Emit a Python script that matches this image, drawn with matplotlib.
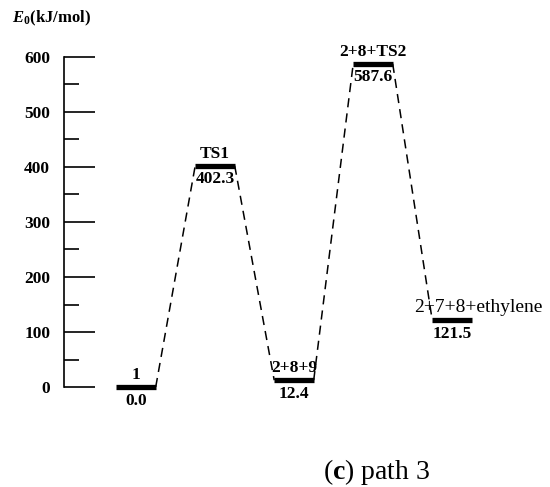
import matplotlib.pyplot as plt
from matplotlib.ticker import MultipleLocator

# energy levels (kJ/mol)
names = ['1', 'TS1', '2+8+9', '2+8+TS2', '2+7+8+ethylene']
energies = [0.0, 402.3, 12.4, 587.6, 121.5]
value_labels = ['0.0', '402.3', '12.4', '587.6', '121.5']

plt.rcParams['font.family'] = ['Liberation Serif', 'DejaVu Serif']
plt.rcParams['mathtext.fontset'] = 'custom'
plt.rcParams['mathtext.rm'] = 'Liberation Serif'
plt.rcParams['mathtext.bf'] = 'Liberation Serif:bold'
plt.rcParams['mathtext.it'] = 'Liberation Serif:italic'
plt.rcParams['mathtext.bfit'] = 'Liberation Serif:bold:italic'

fig = plt.figure(figsize=(5.5, 4.87), dpi=100)
# axes placed so that y=0 -> 387px, y=600 -> 57px from top
ax = fig.add_axes([64 / 550, (487 - 387) / 487, (550 - 64) / 550, 330 / 487])
ax.set_ylim(0, 600)
ax.set_xlim(-0.911, -0.911 + 486 / 79)

half = 0.25
for i, e in enumerate(energies):
    ax.plot([i - half, i + half], [e, e], color='black', lw=3.8,
            solid_capstyle='butt', clip_on=False)
    if i < len(energies) - 1:
        ax.plot([i + half, i + 1 - half], [e, energies[i + 1]], color='black',
                lw=1.1, dashes=(6, 4), clip_on=False)

# labels above and below the levels
for i, (n, e, v) in enumerate(zip(names, energies, value_labels)):
    ax.annotate(v, (i, e), xytext=(0, -4), textcoords='offset points',
                ha='center', va='top', fontsize=12.5, fontweight='bold')
    if i == 4:
        ax.annotate(n, (i, e), xytext=(-27, 3), textcoords='offset points',
                    ha='left', va='bottom', fontsize=14)
    else:
        ax.annotate(n, (i, e), xytext=(0, 3), textcoords='offset points',
                    ha='center', va='bottom', fontsize=12.5, fontweight='bold')

for s in ['top', 'right', 'bottom']:
    ax.spines[s].set_visible(False)
ax.spines['left'].set_linewidth(1.2)
ax.spines['left'].set_bounds(0, 600)
ax.set_xticks([])
ax.yaxis.set_major_locator(MultipleLocator(100))
ax.yaxis.set_minor_locator(MultipleLocator(50))
ax.tick_params(axis='y', which='major', direction='in', length=22, width=1.2,
               pad=10, labelsize=12.5)
ax.tick_params(axis='y', which='minor', direction='in', length=11, width=1.2)
for lab in ax.get_yticklabels():
    lab.set_fontweight('bold')

fig.text(12 / 550, 1 - 18 / 487, r'$\mathbfit{E}_\mathbf{0}$(kJ/mol)',
         fontsize=12, fontweight='bold', va='center', ha='left')
fig.text(377 / 550, 1 - 472 / 487, r'($\mathbf{c}$) path 3', fontsize=20,
         va='center', ha='center')

plt.savefig('out.png', dpi=100)
